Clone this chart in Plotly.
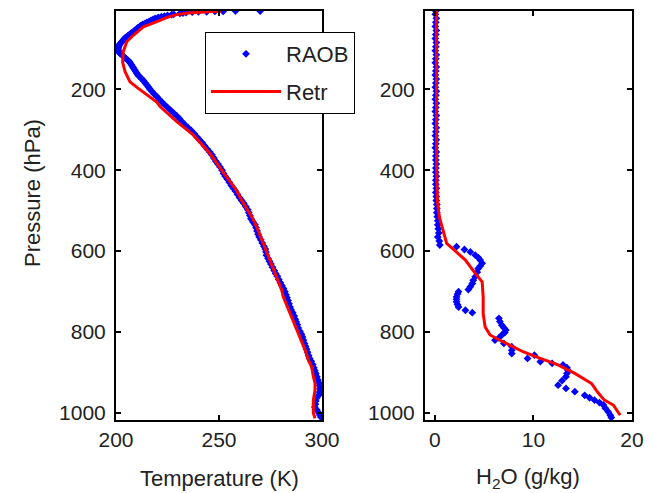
import plotly.graph_objects as go

# ---------------- data ----------------
# Temperature panel: RAOB (radiosonde) points, pressure (hPa) and temperature (K)
raob_t_p = [7, 7, 8, 8, 9, 9, 10, 11, 12, 13, 15, 16, 18, 20, 21, 23, 25, 28, 30, 33, 35, 38,
            40, 43, 46, 49, 52, 55, 58, 61, 64, 67, 70, 73, 76, 79, 82, 85, 88, 91, 94, 97,
            100, 103, 106, 109, 112, 115, 118, 122, 125, 129, 132, 136, 140, 144, 148, 152,
            156, 160, 164, 168, 172, 176, 180, 185, 190, 195, 200, 206, 212, 218, 225, 232,
            238, 245, 252, 259, 266, 273, 280, 288, 295, 302, 310, 318, 325, 332, 340, 348,
            355, 362, 370, 378, 385, 392, 400, 408, 415, 422, 430, 438, 445, 452, 460, 468,
            475, 482, 490, 498, 505, 512, 520, 528, 535, 542, 550, 558, 565, 572, 580, 588,
            595, 602, 610, 618, 625, 632, 640, 648, 655, 662, 670, 678, 685, 692, 700, 708,
            715, 722, 730, 738, 745, 752, 760, 768, 775, 782, 790, 798, 805, 812, 820, 828,
            835, 842, 850, 858, 865, 872, 880, 888, 895, 902, 910, 918, 925, 932, 940, 948,
            955, 962, 970, 978, 985, 992, 1000, 1005, 1010]
raob_t = [270, 258, 252, 248, 244, 240, 237, 234, 232.5, 231, 228, 227, 225, 223.5, 222, 220.5,
          219, 218, 217, 216, 215, 214, 213, 212, 211.5, 210.5, 210, 209, 208.5, 207.5, 207,
          206, 205.5, 204.5, 204, 203.5, 203, 202.5, 202, 201.5, 201.3, 201.1, 201, 201,
          201.2, 201.5, 202, 202.8, 203.5, 204.2, 205, 205.8, 206.5, 207, 207.5, 208, 208.5,
          209, 209.5, 210, 210.5, 211.2, 212, 212.8, 213.5, 214.2, 215, 215.8, 216.5, 217.5,
          218.5, 219.8, 221, 222.3, 223.5, 225, 226.5, 228, 229.5, 230.8, 232, 233.5, 235,
          236.5, 238, 239.3, 240.5, 241.8, 243, 244.3, 245.5, 246.5, 247.5, 248.5, 249.5,
          250.5, 251.5, 252.2, 253, 254, 255, 256, 257, 258, 259, 260, 261, 262, 263, 264,
          264.5, 265, 265.5, 266.5, 267.5, 268, 268.5, 269, 269.5, 270.3, 271, 271.8, 272.5,
          272.8, 273, 273.8, 274.5, 275.2, 276, 276.8, 277.5, 278.3, 279, 279.8, 280.5,
          281.3, 282, 282.5, 283, 283.5, 284, 284.5, 285, 285.8, 286.5, 287, 287.5, 288,
          288.5, 289.3, 290, 290.5, 291, 291.5, 292, 292.5, 293, 293.5, 294, 294.8, 295.5,
          296, 296.5, 297, 297.5, 298, 298.5, 298.8, 299, 298.8, 298.5, 297.5, 297, 296.8,
          296.5, 297.5, 298.5, 299, 299.5]

# Temperature panel: retrieval
retr_t_p = [7, 9, 12, 16, 22, 30, 46, 67, 83, 108, 133, 157, 182, 195, 207, 232, 243, 280,
            313, 359, 417, 450, 475, 515, 540, 581, 610, 647, 696, 713, 754, 812, 840, 869,
            886, 910, 926, 943, 968, 984, 1000, 1013]
retr_t = [251, 243, 235, 229.5, 225, 221.4, 213.3, 208.4, 205.2, 203.5, 203.2, 204.4, 206.8,
          210, 213.3, 219.8, 221.4, 229.5, 237.5, 245.6, 253.7, 258.5, 261, 265.9, 268.3,
          271.5, 273.8, 276.4, 280.4, 281.2, 284.5, 289.3, 291.5, 293.4, 295, 295.8, 296.6,
          296.6, 295.8, 295.8, 295.8, 296.6]

# Water vapour panel: RAOB, pressure (hPa) and mixing ratio (g/kg)
raob_q_p = [7, 15, 25, 35, 45, 55, 65, 75, 85, 95, 105, 115, 125, 135, 145, 155, 165, 175,
            185, 195, 205, 215, 225, 235, 245, 255, 265, 275, 285, 295, 305, 315, 325, 335,
            345, 355, 365, 375, 385, 395, 405, 415, 425, 435, 445, 455, 465, 475, 485, 495,
            505, 515, 525, 535, 545, 555, 565, 575, 585,
            589, 596, 602, 610, 616, 622, 630, 637, 643,
            652, 663, 672, 680, 688, 695, 700, 706, 713, 719, 725, 732, 738, 746, 752, 766,
            774, 783, 789, 795, 801, 807, 814, 820, 828, 836, 845, 853, 857, 865, 873, 877,
            881, 888, 894, 902, 910, 920, 931, 939, 947, 956, 962, 968, 974, 980, 988, 997,
            1005, 1011]
raob_q = [0.1, 0.05, 0.15, 0.1, 0.05, 0.15, 0.1, 0.05, 0.15, 0.1, 0.05, 0.15, 0.1, 0.05,
          0.15, 0.1, 0.05, 0.15, 0.1, 0.05, 0.15, 0.1, 0.05, 0.15, 0.1, 0.05, 0.15, 0.1, 0.05,
          0.15, 0.1, 0.05, 0.15, 0.1, 0.05, 0.15, 0.1, 0.1, 0.15, 0.1, 0.1, 0.15, 0.1, 0.1,
          0.15, 0.1, 0.15, 0.15, 0.2, 0.2, 0.2, 0.25, 0.3, 0.3, 0.35, 0.4, 0.3, 0.45, 0.5,
          2.2, 3.0, 3.6, 4.1, 4.4, 4.6, 4.8, 4.6, 4.4,
          4.3, 4.1, 3.9, 3.8, 3.6, 3.4, 2.4, 2.3, 2.2, 2.2, 2.2, 2.3, 2.4,
          3.1, 3.8, 6.5, 6.6, 6.8, 7.0, 7.2, 7.1, 6.8, 6.5, 6.1, 7.0, 7.8, 7.8, 7.8, 10.1, 9.4,
          10.7, 11.9, 13.0, 13.4, 13.5, 13.4, 13.3, 12.9, 12.5, 13.3, 14.2, 15.2, 15.7, 16.2,
          16.7, 17.1, 17.3, 17.6, 17.8, 17.9]

# Water vapour panel: retrieval
retr_q_p = [7, 100, 200, 300, 400, 470, 500, 520, 548, 565, 581, 598, 622, 655, 676, 713,
            754, 787, 807, 820, 828, 840, 849, 865, 881, 902, 927, 951, 968, 980, 1005]
retr_q = [0.15, 0.15, 0.15, 0.15, 0.18, 0.25, 0.35, 0.5, 0.85, 1.0, 1.2, 2.0, 3.1, 4.1, 4.8,
          4.9, 4.9, 5.1, 5.6, 6.6, 7.3, 8.3, 9.0, 10.7, 12.5, 14.2, 15.9, 16.6, 17.2, 18.1,
          18.8]

p_ticks = [200, 400, 600, 800, 1000]
t_ticks = [200, 250, 300]
q_ticks = [0, 10, 20]

# ---------------- figure ----------------
W, H = 653, 493
OFF = 8  # page body margin
FONT = "Liberation Sans, Arial, sans-serif"
BLUE = "#0000ff"
RED = "#ff0000"
TXT = "#222222"

fig = go.Figure()
fig.add_trace(go.Scatter(x=raob_t, y=raob_t_p, mode="markers", name="RAOB",
                         legendgroup="a",
                         marker=dict(symbol="diamond", size=6, color=BLUE),
                         xaxis="x", yaxis="y"))
fig.add_trace(go.Scatter(x=retr_t, y=retr_t_p, mode="lines", name="Retr",
                         legendgroup="b",
                         line=dict(color=RED, width=3),
                         xaxis="x", yaxis="y"))
fig.add_trace(go.Scatter(x=raob_q, y=raob_q_p, mode="markers", name="RAOB",
                         showlegend=False,
                         marker=dict(symbol="diamond", size=6, color=BLUE),
                         xaxis="x2", yaxis="y2"))
fig.add_trace(go.Scatter(x=retr_q, y=retr_q_p, mode="lines", name="Retr",
                         showlegend=False,
                         line=dict(color=RED, width=3),
                         xaxis="x2", yaxis="y2"))


def px_x(v):
    return (v - OFF) / W


def px_y(v):
    return 1 - (v - OFF) / H


axis_common = dict(showline=True, linewidth=2, linecolor="black", mirror="ticks",
                   ticks="inside", ticklen=5, tickwidth=2, tickcolor="black",
                   showgrid=False, zeroline=False, automargin=False,
                   tickfont=dict(family=FONT, size=21, color=TXT))

fig.update_layout(
    width=W, height=H, autosize=False,
    margin=dict(l=0, r=0, t=0, b=0),
    paper_bgcolor="white", plot_bgcolor="white",
    font=dict(family=FONT, size=21, color=TXT),
    xaxis=dict(domain=[px_x(116), px_x(322)], range=[200, 300], tickvals=t_ticks,
               anchor="y", ticklabelstandoff=0, **axis_common),
    yaxis=dict(domain=[px_y(420), px_y(11)], range=[1017, 7], tickvals=p_ticks,
               anchor="x", ticklabelstandoff=4, **axis_common),
    xaxis2=dict(domain=[px_x(425), px_x(632)], range=[-1, 20], tickvals=q_ticks,
                anchor="y2", ticklabelstandoff=0, **axis_common),
    yaxis2=dict(domain=[px_y(420), px_y(11)], range=[1017, 7], tickvals=p_ticks,
                anchor="x2", ticklabelstandoff=4, **axis_common),
    legend=dict(x=px_x(205), y=px_y(32), xanchor="left", yanchor="top",
                bgcolor="white", bordercolor="black", borderwidth=1,
                font=dict(family=FONT, size=22, color=TXT),
                tracegroupgap=6, itemwidth=70),
    annotations=[
        dict(text="Pressure (hPa)", x=px_x(33), y=px_y(193), xref="paper", yref="paper",
             textangle=-90, showarrow=False, xanchor="center", yanchor="middle",
             font=dict(family=FONT, size=22, color=TXT)),
        dict(text="Temperature (K)", x=px_x(219), y=px_y(478), xref="paper", yref="paper",
             showarrow=False, xanchor="center", yanchor="middle",
             font=dict(family=FONT, size=22, color=TXT)),
        dict(text="H<sub>2</sub>O (g/kg)", x=px_x(528), y=px_y(478), xref="paper",
             yref="paper", showarrow=False, xanchor="center", yanchor="middle",
             font=dict(family=FONT, size=22, color=TXT)),
    ],
)

fig.write_html("out.html")
